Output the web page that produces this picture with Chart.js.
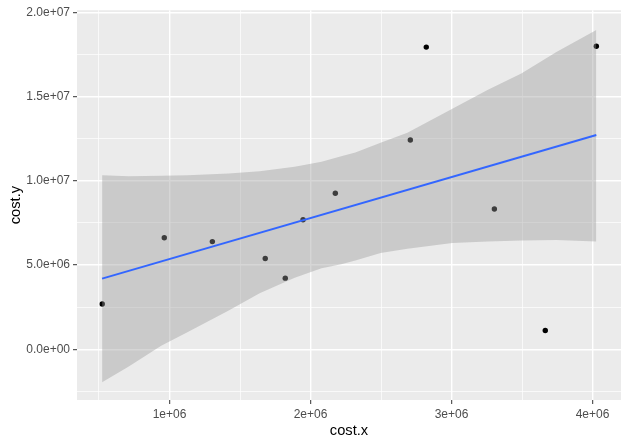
<!DOCTYPE html>
<html>
<head>
<meta charset="utf-8">
<script src="https://cdn.jsdelivr.net/npm/chart.js@4"></script>
<style>
  html, body { margin: 0; padding: 0; background: #ffffff; }
  #wrap { width: 629px; height: 446px; position: relative; }
</style>
</head>
<body>
<div id="wrap"><canvas id="chart"></canvas></div>
<script>
// puntos (cost.x, cost.y)
const costX = [523000, 963000, 1304000, 1679000, 1821000, 1947000, 2176000, 2708000, 2821000, 3304000, 3665000, 4027000];
const costY = [2690000, 6620000, 6390000, 5390000, 4220000, 7690000, 9260000, 12420000, 17930000, 8320000, 1110000, 17980000];

// recta ajustada (lm)
const fitX = [522000, 4027000];
const fitY = [4190000, 12710000];

// banda de confianza
const bandX     = [522000, 711000, 941000, 1130000, 1420000, 1639000, 1888000, 2078000, 2218000, 2318000, 2497000, 2687000, 3006000, 3255000, 3495000, 3744000, 4027000];
const bandUpper = [10330000, 10270000, 10290000, 10330000, 10430000, 10570000, 10830000, 11130000, 11460000, 11670000, 12260000, 12850000, 14270000, 15390000, 16360000, 17640000, 18940000];
const bandLower = [-1950000, -1020000, 210000, 1030000, 2300000, 3330000, 4250000, 4810000, 5040000, 5270000, 5720000, 5970000, 6300000, 6400000, 6460000, 6480000, 6400000];

// ticks
const xMajor = [1000000, 2000000, 3000000, 4000000];
const xMinor = [500000, 1500000, 2500000, 3500000];
const xLabels = ['1e+06', '2e+06', '3e+06', '4e+06'];
const yMajor = [0, 5000000, 10000000, 15000000, 20000000];
const yMinor = [-2500000, 2500000, 7500000, 12500000, 17500000];
const yLabels = ['0.0e+00', '5.0e+06', '1.0e+07', '1.5e+07', '2.0e+07'];

const FONT = 'Liberation Sans, Arial, sans-serif';

const xy = (xs, ys) => xs.map((x, i) => ({ x: x, y: ys[i] }));

const panelBg = {
  id: 'panelBg',
  beforeDraw(chart) {
    const { ctx, chartArea: a } = chart;
    ctx.save();
    ctx.fillStyle = '#EBEBEB';
    ctx.fillRect(a.left, a.top, a.right - a.left, a.bottom - a.top);
    ctx.restore();
  }
};

function axisOpts(major, minor, labels, min, max) {
  const all = major.concat(minor).sort((a, b) => a - b);
  const isMajor = v => major.includes(v);
  return {
    type: 'linear',
    min: min,
    max: max,
    afterBuildTicks: s => { s.ticks = all.map(v => ({ value: v })); },
    border: { display: false },
    grid: {
      color: '#FFFFFF',
      lineWidth: c => (c.tick && isMajor(c.tick.value)) ? 1.4 : 0.7,
      tickColor: c => (c.tick && isMajor(c.tick.value)) ? '#333333' : 'rgba(0,0,0,0)',
      tickLength: 4,
      tickWidth: 1,
    },
    ticks: {
      autoSkip: false,
      maxRotation: 0,
      padding: 3,
      color: '#4D4D4D',
      font: { family: FONT, size: 12 },
      callback: v => isMajor(v) ? labels[major.indexOf(v)] : '',
    },
  };
}

const xAxis = axisOpts(xMajor, xMinor, xLabels, 344000, 4202000);
xAxis.afterFit = s => { s.height = 46; };
xAxis.title = { display: true, text: 'cost.x', color: '#000000', font: { family: FONT, size: 14.67 }, padding: { top: 0, bottom: 6 } };

const yAxis = axisOpts(yMajor, yMinor, yLabels, -3010000, 20120000);
yAxis.afterFit = s => { s.width = 77; };
yAxis.title = { display: true, text: 'cost.y', color: '#000000', font: { family: FONT, size: 14.67 }, padding: { top: 7, bottom: 0 } };

new Chart(document.getElementById('chart'), {
  type: 'scatter',
  data: {
    datasets: [
      { // recta
        data: xy(fitX, fitY), showLine: true, borderColor: '#3366FF', borderWidth: 2,
        pointRadius: 0, fill: false,
      },
      { // borde superior de la banda
        data: xy(bandX, bandUpper), showLine: true, borderWidth: 0, borderColor: 'rgba(0,0,0,0)',
        pointRadius: 0, fill: '+1', backgroundColor: 'rgba(153,153,153,0.4)',
      },
      { // borde inferior
        data: xy(bandX, bandLower), showLine: true, borderWidth: 0, borderColor: 'rgba(0,0,0,0)',
        pointRadius: 0, fill: false,
      },
      { // puntos
        data: xy(costX, costY), showLine: false, pointRadius: 2.7, pointBorderWidth: 0,
        pointBackgroundColor: '#000000', backgroundColor: '#000000',
      },
    ],
  },
  options: {
    responsive: true, maintainAspectRatio: false, animation: false,
    layout: { padding: { left: 0, top: 6, right: 8, bottom: 0 } },
    plugins: { legend: { display: false }, tooltip: { enabled: false } },
    scales: { x: xAxis, y: yAxis },
  },
  plugins: [panelBg],
});
</script>
</body>
</html>
